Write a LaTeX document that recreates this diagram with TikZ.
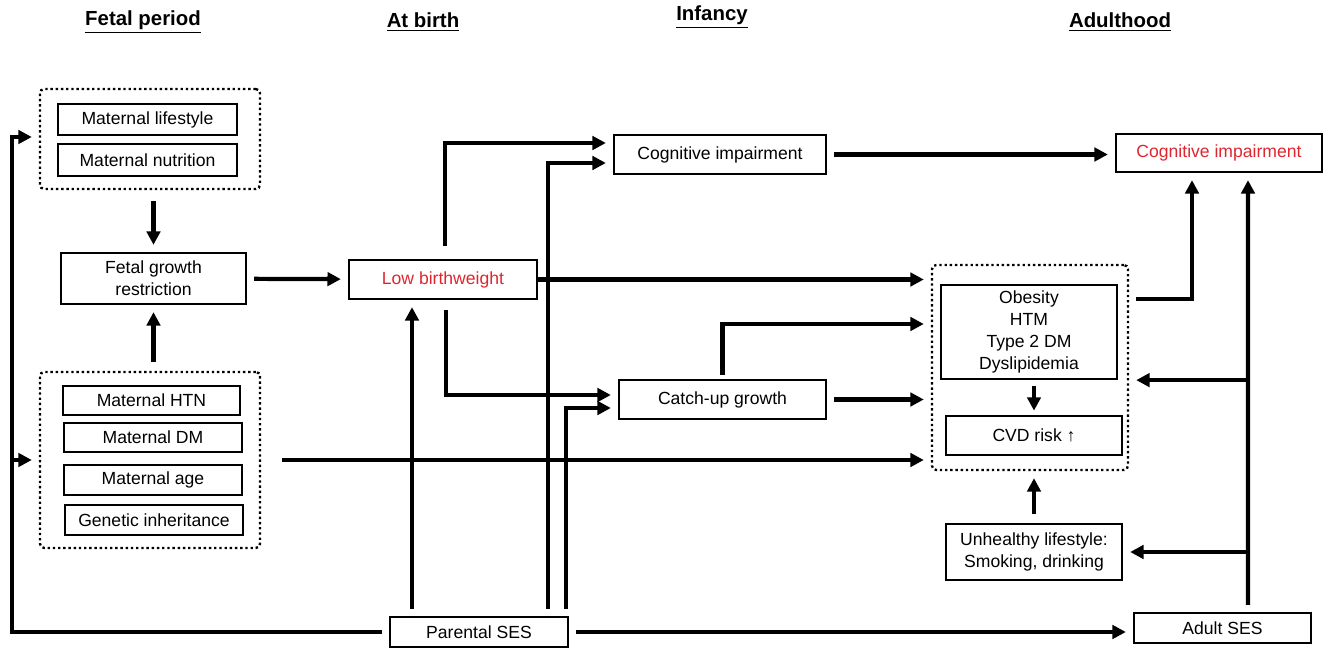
\documentclass[tikz,border=0pt]{standalone}
\usepackage{fontspec}
\setmainfont{Liberation Sans}
\usetikzlibrary{positioning, arrows.meta, calc}
\definecolor{outred}{RGB}{222,38,48}
\tikzset{
    hdr/.style={font=\fontsize{14.5}{17}\selectfont\bfseries},
    factor/.style 2 args={rectangle, draw, line width=1.6pt, minimum width=#1*0.025cm, minimum height=#2*0.025cm, align=center, inner sep=1pt, font=\fontsize{12.5}{15.5}\selectfont},
    redfactor/.style 2 args={factor={#1}{#2}, text=outred},
    grp/.style 2 args={rectangle, draw, dotted, line width=1.7pt, rounded corners=3pt, minimum width=#1*0.025cm, minimum height=#2*0.025cm},
    arr/.style={-{Triangle[length=9.5pt, width=9.5pt]}, line width=3pt, shorten >=5pt, shorten <=5pt},
    branch/.style={arr, shorten <=0pt}
}
\begin{document}
\begin{tikzpicture}[x=0.025cm, y=-0.025cm]
    \useasboundingbox (0,0) rectangle (1328,648);
    % headings
    \node[hdr] at (143,22) (hfetal) {\underline{Fetal period}};
    \node[hdr] at (423,22) (hbirth) {\underline{At birth}};
    \node[hdr] at (712,17) (hinf) {\underline{Infancy}};
    \node[hdr] at (1120,22) (hadult) {\underline{Adulthood}};
    % fetal period
    \node[grp={220}{100}] at (150,139) (grp1) {};
    \node[factor={179}{31}] at (147.5,119.5) (mlife) {Maternal lifestyle};
    \node[factor={179}{32}] at (147.5,160) (mnutr) {Maternal nutrition};
    \node[factor={185}{51}] at (153.5,278.5) (fgr) {Fetal growth\\restriction};
    \node[grp={220}{176}] at (150,460) (grp2) {};
    \node[factor={177}{29}] at (151.5,400.5) (mhtn) {Maternal HTN};
    \node[factor={178}{29}] at (153,437.5) (mdm) {Maternal DM};
    \node[factor={178}{30}] at (153,480) (mage) {Maternal age};
    \node[factor={178}{30}] at (154,520) (genet) {Genetic inheritance};
    % at birth / infancy
    \node[redfactor={188}{39}] at (443,279.5) (lbw) {Low birthweight};
    \node[factor={212}{39}] at (720,154.5) (cogi) {Cognitive impairment};
    \node[factor={207}{39}] at (722.5,399.5) (catch) {Catch-up growth};
    \node[factor={178}{30}] at (479,632) (parses) {Parental SES};
    % adulthood
    \node[redfactor={206}{38}] at (1219,153) (cogadult) {Cognitive impairment};
    \node[grp={196}{205}] at (1030,367.5) (grp3) {};
    \node[factor={176}{94}] at (1029,332) (obes) {Obesity\\HTM\\Type 2 DM\\Dyslipidemia};
    \node[factor={176}{39}] at (1034,435.5) (cvd) {CVD risk ↑};
    \node[factor={176}{56}] at (1034,552) (unh) {Unhealthy lifestyle:\\Smoking, drinking};
    \node[factor={177}{30}] at (1222.5,628) (adses) {Adult SES};
    \coordinate (lx) at (12,0);
    \coordinate (aspine) at ($(adses.north)+(25.5,0)$);
    % connectors
    \draw[arr, shorten <=8pt] (grp1.south -| fgr.north) -- (fgr.north);
    \draw[arr, shorten <=6pt] (grp2.north -| fgr.south) -- (fgr.south);
    \draw[arr] (parses.west) -- (parses.west -| lx) |- ($(grp1.west)+(0,-2)$);
    \draw[branch] (grp2.west -| lx) -- (grp2.west);
    \draw[arr] (fgr) -- (lbw);
    \draw[arr, shorten <=9pt] ($(lbw.north)+(2,0)$) |- ($(cogi.west)+(0,-11.5)$);
    \draw[arr] ($(parses.north)+(69,0)$) |- ($(cogi.west)+(0,8.5)$);
    \draw[arr] ($(parses.north)+(87,0)$) |- ($(catch.west)+(0,8.5)$);
    \draw[arr] ($(parses.north)+(-67,0)$) -- ($(lbw.south)+(-31,0)$);
    \draw[arr, shorten <=7pt] ($(lbw.south)+(3,0)$) |- ($(catch.west)+(0,-4.5)$);
    \draw[arr, shorten <=0pt] (lbw.east) -- (lbw.east -| grp3.west);
    \draw[arr] (cogi.east) -- (cogi.east -| cogadult.west);
    \draw[arr] (catch.east) -- (catch.east -| grp3.west);
    \draw[arr, shorten <=3pt] (catch.north) |- ($(grp3.west)+(0,-43.5)$);
    \draw[arr, shorten <=15pt] (grp2.east) -- (grp2.east -| grp3.west);
    \draw[arr, line width=2.6pt, shorten <=4pt, shorten >=3pt] (obes.south -| cvd.north) -- (cvd.north);
    \draw[arr, shorten <=13pt] ($(obes.east)+(0,-33)$) -| ($(cogadult.south)+(-27,0)$);
    \draw[arr] (aspine) -- ($(cogadult.south)+(29,0)$);
    \draw[branch] (aspine |- obes.south) -- (grp3.east |- obes.south);
    \draw[branch] (aspine |- unh) -- (unh.east);
    \draw[arr, shorten <=6pt] (unh.north) -- (unh.north |- grp3.south);
    \draw[arr] (parses.east) -- (parses.east -| adses.west);
\end{tikzpicture}
\end{document}
